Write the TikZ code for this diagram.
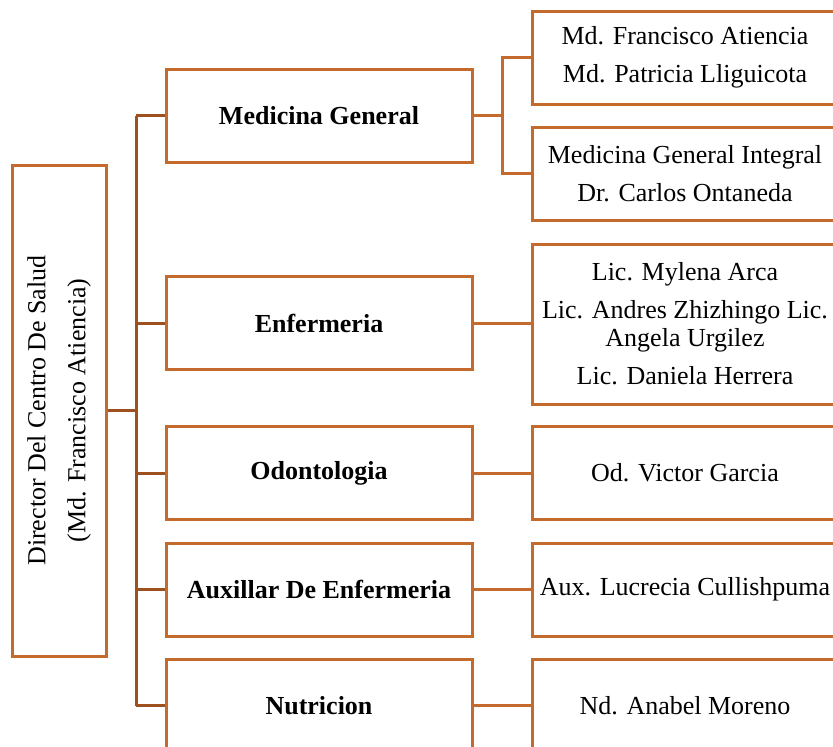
\documentclass[tikz,border=0pt]{standalone}
\usepackage{fontspec}
\setmainfont{Liberation Serif}
\definecolor{boxorange}{RGB}{197,106,45}
\definecolor{trunkbrown}{RGB}{158,80,30}
\begin{document}
\begin{tikzpicture}[x=1pt,y=-1pt,
  box/.style={draw=boxorange,line width=3pt,fill=white,inner sep=0pt,align=center,
    font=\fontsize{26}{28}\selectfont},
  midbox/.style={box,minimum width=306pt,minimum height=93pt,font=\fontsize{26}{28}\selectfont\bfseries},
  rbox/.style={box,minimum width=306pt,minimum height=93pt},
  trunkline/.style={draw=trunkbrown,line width=3pt},
  rline/.style={draw=boxorange,line width=3pt}]
\useasboundingbox (0,0) rectangle (833,747);
\clip (0,0) rectangle (833,747);
% director
\node[box,rotate=90,minimum width=491pt,minimum height=94pt] (dir) at (59,410.5)
  {Director Del Centro De Salud\\[12pt](Md. Francisco Atiencia)};
% middle boxes
\node[midbox] (mg) at (319,115.5) {Medicina General};
\node[midbox] (enf) at (319,323) {Enfermeria};
\node[midbox] (odo) at (319,473) {Odontologia};
\node[midbox] (aux) at (319,589.5) {Auxillar De Enfermeria};
\node[midbox] (nut) at (319,705.5) {Nutricion};
% right boxes
\node[rbox] (mg1) at (685,57.5) {Md. Francisco Atiencia\\[10pt]Md. Patricia Lliguicota};
\node[rbox] (mg2) at (685,173.5) {Medicina General Integral\\[10pt]Dr. Carlos Ontaneda};
\node[rbox,minimum height=160pt] (enfr) at (685,324) {Lic. Mylena Arca\\[10pt]Lic. Andres Zhizhingo Lic.\\Angela Urgilez\\[10pt]Lic. Daniela Herrera};
\node[rbox] (odor) at (685,473) {Od. Victor Garcia};
\node[rbox] (auxr) at (685,589.5) {Aux. Lucrecia Cullishpuma};
\node[rbox] (nutr) at (685,705.5) {Nd. Anabel Moreno};
% trunk
\coordinate (ttop) at (136,115.5);
\coordinate (tbot) at (136,705.5);
\draw[trunkline] (ttop) -- (tbot);
\draw[trunkline] (dir.south) -- (dir.south -| ttop);
\draw[trunkline] (mg.west) -- (mg.west -| ttop);
\draw[trunkline] (enf.west) -- (enf.west -| ttop);
\draw[trunkline] (odo.west) -- (odo.west -| ttop);
\draw[trunkline] (aux.west) -- (aux.west -| ttop);
\draw[trunkline] (nut.west) -- (nut.west -| ttop);
% right connectors
\coordinate (split) at (502,115.5);
\draw[rline] (mg.east) -- (split);
\draw[rline] (mg1.west) -| (split);
\draw[rline] (mg2.west) -| (split);
\draw[rline] (enf.east) -- (enf.east -| enfr.west);
\draw[rline] (odo.east) -- (odor.west);
\draw[rline] (aux.east) -- (auxr.west);
\draw[rline] (nut.east) -- (nutr.west);
\end{tikzpicture}
\end{document}
